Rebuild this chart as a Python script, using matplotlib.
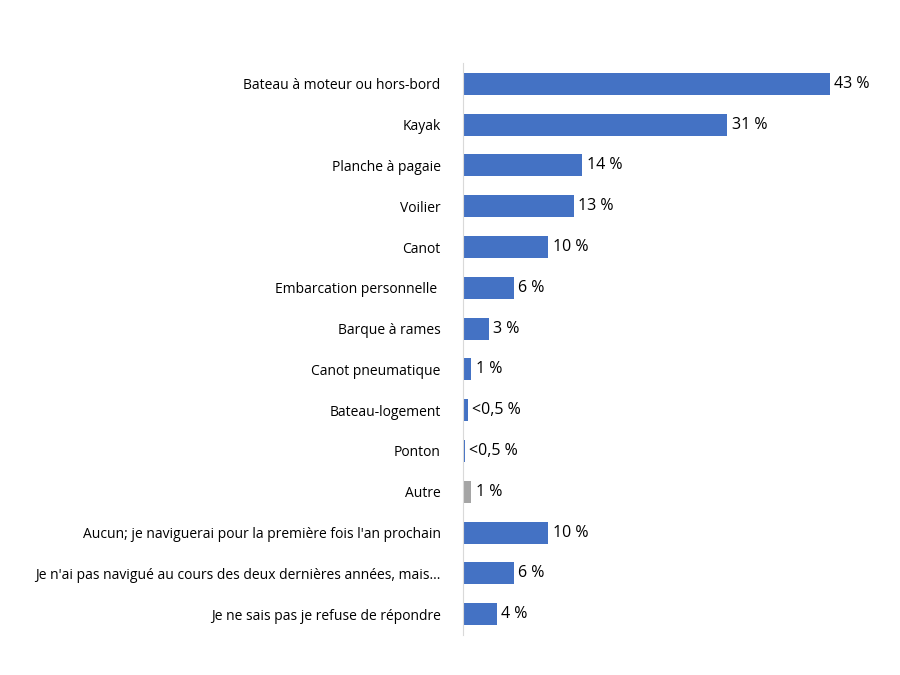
import matplotlib
matplotlib.use("Agg")
import matplotlib.pyplot as plt

categories = ["Bateau à moteur ou hors-bord", "Kayak", "Planche à pagaie", "Voilier", "Canot",
              "Embarcation personnelle ", "Barque à rames", "Canot pneumatique", "Bateau-logement",
              "Ponton", "Autre", "Aucun; je naviguerai pour la première fois l'an prochain",
              "Je n'ai pas navigué au cours des deux dernières années, mais...",
              "Je ne sais pas je refuse de répondre"]
values = [43, 31, 14, 13, 10, 6, 3, 1, 0.6, 0.2, 1, 10, 6, 4]
labels = ["43 %", "31 %", "14 %", "13 %", "10 %", "6 %", "3 %", "1 %", "<0,5 %", "<0,5 %",
          "1 %", "10 %", "6 %", "4 %"]
colors = ["#4472C4"] * 10 + ["#A5A5A5"] + ["#4472C4"] * 3

plt.rcParams['font.family'] = ['Open Sans', 'DejaVu Sans']
fig = plt.figure(figsize=(9, 6.75), dpi=100)
ax = fig.add_axes([0.5144, 0.060, 0.474, 0.846])
y = list(range(len(categories)))
ax.barh(y, values, color=colors, height=0.54)
for yi, v, l in zip(y, values, labels):
    ax.text(v + 0.5, yi, l, va='center', ha='left', fontsize=11.5, color='#000000')
ax.set_yticks(y)
ax.set_yticklabels(categories, fontsize=10, color='#000000')
ax.set_ylim(len(categories) - 0.5, -0.5)
ax.set_xlim(0, 50)
ax.set_xticks([])
ax.tick_params(axis='y', length=0, pad=16)
for s in ['top', 'right', 'bottom']:
    ax.spines[s].set_visible(False)
ax.spines['left'].set_color('#D9D9D9')
fig.savefig("out.png", dpi=100)
